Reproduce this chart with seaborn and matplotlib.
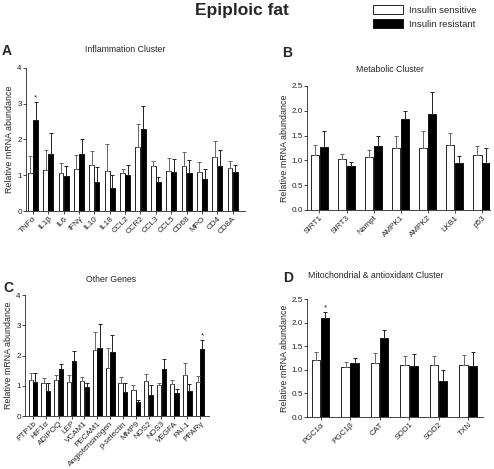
import matplotlib
matplotlib.use("Agg")
import matplotlib.pyplot as plt
import seaborn as sns
import pandas as pd
import numpy as np

sns.set_theme(style="ticks")
plt.rcParams['font.family'] = ['Liberation Sans', 'DejaVu Sans']

groups = ["Insulin sensitive", "Insulin resistant"]

# Panel A: Inflammation Cluster
a_genes = ["TNFα", "IL1β", "IL6", "IFNγ", "IL10", "IL18", "CCL2", "CCR2", "CCL3", "CCL5", "CD68", "MPO", "CD4", "CD8A"]
a_sens = [1.05, 1.15, 1.05, 1.18, 1.28, 1.13, 1.05, 1.78, 1.25, 1.12, 1.25, 1.10, 1.52, 1.20]
a_sens_err = [1.55, 1.72, 1.33, 1.58, 1.67, 1.87, 1.17, 2.43, 1.40, 1.47, 1.64, 1.37, 1.97, 1.40]
a_res = [2.55, 1.60, 0.97, 1.60, 0.80, 0.65, 1.00, 2.30, 0.80, 1.10, 1.05, 0.90, 1.27, 1.10]
a_res_err = [3.05, 2.18, 1.26, 2.00, 1.22, 1.00, 1.28, 2.95, 0.95, 1.45, 1.42, 1.17, 1.72, 1.30]

# Panel B: Metabolic Cluster
b_genes = ["SIRT1", "SIRT3", "Nampt", "AMPK1", "AMPK2", "LKB1", "p53"]
b_sens = [1.11, 1.03, 1.07, 1.24, 1.25, 1.32, 1.10]
b_sens_err = [1.32, 1.13, 1.20, 1.49, 1.60, 1.56, 1.29]
b_res = [1.27, 0.89, 1.29, 1.84, 1.94, 0.95, 0.95]
b_res_err = [1.60, 0.96, 1.49, 2.00, 2.37, 1.08, 1.25]

# Panel C: Other Genes
c_genes = ["PTP1b", "HIF1α", "ADIPOQ", "LEP", "VCAM1", "PECAM1", "Angiotensinogen", "p-selectin",
           "MMP9", "NOS2", "NOS3", "VEGFA", "PAI-1", "PPARγ"]
c_sens = [1.18, 1.10, 1.20, 1.13, 1.15, 2.18, 1.60, 1.10, 0.87, 1.17, 1.01, 1.06, 1.35, 1.13]
c_sens_err = [1.42, 1.25, 1.35, 1.35, 1.28, 2.77, 2.25, 1.28, 1.02, 1.40, 1.08, 1.18, 1.75, 1.32]
c_res = [1.12, 0.84, 1.57, 1.82, 0.97, 2.25, 2.10, 0.80, 0.45, 0.71, 1.55, 0.75, 0.82, 2.22]
c_res_err = [1.42, 1.10, 1.73, 2.15, 1.10, 3.05, 2.68, 1.10, 0.52, 1.03, 1.88, 0.88, 1.05, 2.52]

# Panel D: Mitochondrial & antioxidant Cluster
d_genes = ["PGC1α", "PGC1β", "CAT", "SOD1", "SOD2", "TXN"]
d_sens = [1.20, 1.05, 1.15, 1.11, 1.11, 1.11]
d_sens_err = [1.37, 1.17, 1.35, 1.30, 1.30, 1.31]
d_res = [2.10, 1.14, 1.68, 1.07, 0.77, 1.09]
d_res_err = [2.22, 1.24, 1.84, 1.33, 1.00, 1.38]

W, H = 494, 469
fig = plt.figure(figsize=(W / 100, H / 100), dpi=100)


def px_axes(l, t, r, b):
    return fig.add_axes([l / W, (H - b) / H, (r - l) / W, (b - t) / H])


def panel(ax, genes, sens, sens_err, res, res_err, ymax, ystep, yfmt, xlim, width, stars):
    df = pd.DataFrame({
        "gene": genes * 2,
        "group": [groups[0]] * len(genes) + [groups[1]] * len(genes),
        "value": list(sens) + list(res),
        "upper": list(sens_err) + list(res_err),
    })
    sns.barplot(data=df, x="gene", y="value", hue="group", hue_order=groups,
                palette={groups[0]: "white", groups[1]: "black"},
                edgecolor="black", linewidth=0.6, width=width, gap=0.08,
                errorbar=None, ax=ax, legend=True)
    patches = [p for p in ax.patches if p.get_height() > 0]
    n = len(genes)
    for i, p in enumerate(patches[:2 * n]):
        xc = p.get_x() + p.get_width() / 2
        h = p.get_height()
        up = df["upper"].iloc[i]
        col = "#666666" if i < n else "#222222"
        ax.errorbar(xc, h, yerr=[[0], [up - h]], fmt="none", ecolor=col,
                    elinewidth=0.7, capsize=1.4, capthick=0.7)
        if i >= n and (i - n) in stars:
            ax.text(xc, up + ymax * 0.005, "*", ha="center", va="bottom", fontsize=6)
    ax.set_ylim(0, ymax)
    ax.set_xlim(*xlim)
    ax.set_yticks(np.arange(0, ymax + 1e-9, ystep))
    ax.set_yticklabels([yfmt.format(v) for v in np.arange(0, ymax + 1e-9, ystep)])
    ax.set_xlabel("")
    ax.set_ylabel("Relative mRNA abundance", fontsize=6.4, labelpad=2)
    ax.tick_params(axis="both", length=2, width=0.6, labelsize=5.9, pad=1)
    plt.setp(ax.get_xticklabels(), rotation=45, ha="right", rotation_mode="anchor")
    for s in ["top", "right"]:
        ax.spines[s].set_visible(False)
    for s in ["left", "bottom"]:
        ax.spines[s].set_linewidth(0.6)
    handles, labels = ax.get_legend_handles_labels()
    ax.get_legend().remove()
    return handles, labels


axA = px_axes(26, 68, 245, 211)
handles, labels = panel(axA, a_genes, a_sens, a_sens_err, a_res, a_res_err, 4, 1, "{:.0f}",
                        (-0.45, 13.8), 0.68, [0])
axB = px_axes(307, 86, 490, 210)
panel(axB, b_genes, b_sens, b_sens_err, b_res, b_res_err, 2.5, 0.5, "{:.1f}",
      (-0.46, 6.3), 0.66, [])
axC = px_axes(25, 295, 209, 416)
panel(axC, c_genes, c_sens, c_sens_err, c_res, c_res_err, 4, 1, "{:.0f}",
      (-0.62, 13.7), 0.72, [13])
axD = px_axes(307, 299, 483, 417)
panel(axD, d_genes, d_sens, d_sens_err, d_res, d_res_err, 2.5, 0.5, "{:.1f}",
      (-0.46, 5.5), 0.62, [0])


def ftext(x, y, s, **kw):
    fig.text(x / W, 1 - y / H, s, **kw)


ftext(242, 10, "Epiploic fat", ha="center", va="center", fontsize=12.5, fontweight="bold")
ftext(125, 50, "Inflammation Cluster", ha="center", va="center", fontsize=6.3)
ftext(390, 70, "Metabolic Cluster", ha="center", va="center", fontsize=6.3)
ftext(111, 280, "Other Genes", ha="center", va="center", fontsize=6.3)
ftext(376, 275, "Mitochondrial & antioxidant Cluster", ha="center", va="center", fontsize=6.3)
ftext(2, 51, "A", ha="left", va="center", fontsize=10, fontweight="bold")
ftext(282, 53, "B", ha="left", va="center", fontsize=10, fontweight="bold")
ftext(3, 288, "C", ha="left", va="center", fontsize=10, fontweight="bold")
ftext(283, 278, "D", ha="left", va="center", fontsize=10, fontweight="bold")

leg = fig.legend(handles, labels, loc="upper left", bbox_to_anchor=(371 / W, 1 - 3 / H),
                 frameon=False, fontsize=6.8, handlelength=3.2, handleheight=1.1,
                 handletextpad=0.6, labelspacing=0.45, borderaxespad=0, borderpad=0.2)

fig.savefig("out.png", dpi=100)
